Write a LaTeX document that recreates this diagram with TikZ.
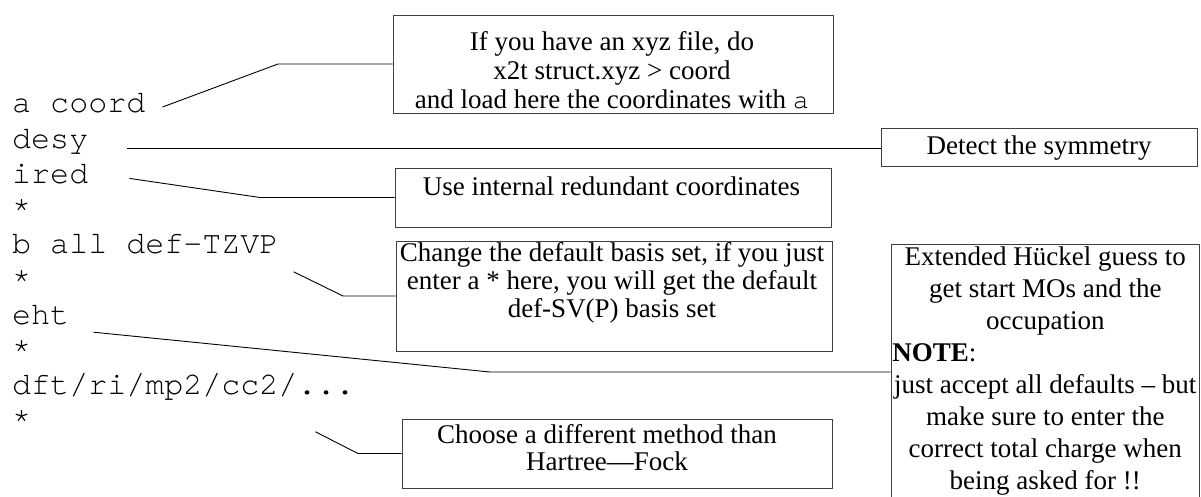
\documentclass[tikz,border=0pt]{standalone}
\usepackage{fontspec}
\setmainfont{Liberation Serif}
\newfontfamily\courfont{texgyrecursor-regular.otf}
\newcommand\myfs[2]{\fontsize{#1}{#2}\selectfont}
\begin{document}
\begin{tikzpicture}[x=1pt,y=-1pt,
  code/.style={font=\courfont\myfs{31.7}{36}, anchor=base west, inner sep=0pt},
  box/.style={draw=black!75, line width=0.9pt, inner sep=0pt},
  conn/.style={draw=black, line width=0.9pt},
  txt/.style={inner sep=0pt, align=center, font=\myfs{27}{#1}},
  txt/.default=29]
\useasboundingbox (0,0) rectangle (1201,497);
% code lines
\node[code] (l1)  at (12,113)   {a coord};
\node[code] (l2)  at (12,148.2) {desy};
\node[code] (l3)  at (12,183.4) {ired};
\node[code] (l4)  at (12,218.6) {*};
\node[code] (l5)  at (12,253.8) {b all def-TZVP};
\node[code] (l6)  at (12,289)   {*};
\node[code] (l7)  at (12,324.2) {eht};
\node[code] (l8)  at (12,359.4) {*};
\node[code] (l9)  at (12,394.6) {dft/ri/mp2/cc2/...};
\node[code] (l10) at (12,429.8) {*};
% boxes
\node[box, minimum width=440pt, minimum height=98pt]  (b1) at (613,64) {};
\node[box, minimum width=316pt, minimum height=38pt]  (b2) at (1039,147) {};
\node[box, minimum width=436pt, minimum height=59pt]  (b3) at (613,197.5) {};
\node[box, minimum width=436pt, minimum height=110pt] (b4) at (614,296) {};
\node[box, minimum width=308.5pt, minimum height=256pt] (b5) at (1045.25,372) {};
\node[box, minimum width=430pt, minimum height=69pt]  (b6) at (617,453.5) {};
% texts
\node[txt, anchor=north] (t1) at (612,31.6)
  {If you have an xyz file, do\\x2t struct.xyz > coord\\and load here the coordinates with {\courfont a}};
\node[txt, anchor=base] (t2) at (1039,155) {Detect the symmetry};
\node[txt, anchor=base] (t3) at (611.5,195) {Use internal redundant coordinates};
\node[txt=28, anchor=north] (t4) at (612,242.6)
  {Change the default basis set, if you just\\enter a * here, you will get the default\\def-SV(P) basis set};
\node[txt=32, anchor=north] (t5) at (1045.25,246.6)
  {Extended Hückel guess to\\get start MOs and the\\occupation\\\makebox[306pt][l]{\textbf{NOTE}:}\\just accept all defaults -- but\\make sure to enter the\\correct total charge when\\being asked for !!};
\node[txt=27, anchor=north] (t6) at (607,424.6)
  {Choose a different method than\\Hartree---Fock};
% connector ends
\coordinate (s1) at ([shift={(17,-6)}]l1.base east);
\coordinate (k1) at (278,64);
\coordinate (s2) at ([shift={(39,0)}]l2.base east);
\coordinate (s3) at ([shift={(41,-5)}]l3.base east);
\coordinate (k3) at (260,197.5);
\coordinate (s4) at ([shift={(15,18)}]l5.base east);
\coordinate (k4) at (343,296);
\coordinate (s5) at ([shift={(24,8)}]l7.base east);
\coordinate (k5) at (490,372);
\coordinate (s6) at ([shift={(284,2)}]l10.base east);
\coordinate (k6) at (358,453.5);
% connectors
\draw[conn] (s1) -- (k1) -- (b1.west);
\draw[conn] (s2) -- (s2 -| b2.west);
\draw[conn] (s3) -- (k3) -- (b3.west);
\draw[conn] (s4) -- (k4) -- (b4.west);
\draw[conn] (s5) -- (k5) -- (b5.west);
\draw[conn] (s6) -- (k6) -- (b6.west);
\end{tikzpicture}
\end{document}
